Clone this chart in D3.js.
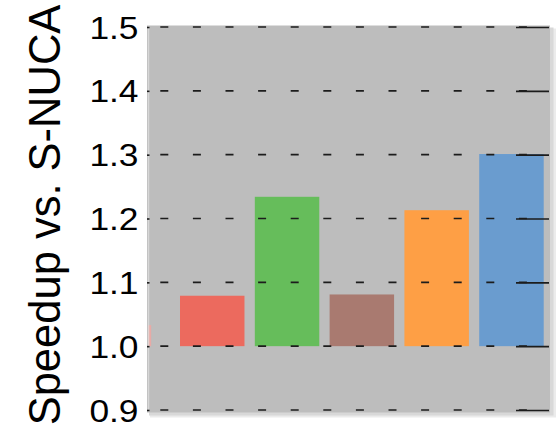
<!DOCTYPE html>
<html>
<head>
<meta charset="utf-8">
<script src="https://cdn.jsdelivr.net/npm/d3@7"></script>
<style>
  html, body { margin: 0; padding: 0; background: #ffffff; }
  svg { display: block; }
  text { font-family: "Liberation Sans", Arial, Helvetica, sans-serif; fill: #000; }
</style>
</head>
<body>
<div id="chart"></div>
<script>
// Speedup of each scheme over the S-NUCA baseline
const categories = ["A", "B", "C", "D", "E"];
const speedups = [1.079, 1.234, 1.081, 1.213, 1.301];
const barColors = ["#ec6a5e", "#66bd5b", "#a97a70", "#fe9f45", "#6a9ccf"];
// last bar of the preceding group, cut off at the plot edge
const edgeValue = [1.033];
const edgeColor = "#e8aaa6";
const yTicks = [0.9, 1.0, 1.1, 1.2, 1.3, 1.4, 1.5];
const yLabel = "Speedup vs. S-NUCA";

const W = 559, H = 425;
const plot = { left: 147, right: 550, top: 25.5, bottom: 412.5 };
const groupGap = 18.5;

const svg = d3.select("#chart").append("svg")
  .attr("width", W).attr("height", H);

// soft shadow along the right and bottom edges of the plot panel
svg.append("rect")
  .attr("x", plot.left + 3).attr("y", plot.top + 3)
  .attr("width", plot.right - plot.left + 3).attr("height", plot.bottom - plot.top + 2)
  .attr("fill", "#ebebeb");
svg.append("rect")
  .attr("x", plot.left + 2).attr("y", plot.top + 2)
  .attr("width", plot.right - plot.left + 1.5).attr("height", plot.bottom - plot.top + 1)
  .attr("fill", "#d8d8d8");

// plot panel
svg.append("rect")
  .attr("x", plot.left).attr("y", plot.top)
  .attr("width", plot.right - plot.left).attr("height", plot.bottom - plot.top)
  .attr("fill", "#bdbdbd");

const y = d3.scaleLinear().domain([0.9, 1.5]).range([410, 27]);
const x = d3.scaleBand().domain(categories)
  .range([180, 543.7]).paddingInner(0.138).paddingOuter(0);

svg.append("clipPath").attr("id", "plotClip")
  .append("rect")
  .attr("x", plot.left + 1).attr("y", plot.top)
  .attr("width", plot.right - plot.left - 1).attr("height", plot.bottom - plot.top);

const marks = svg.append("g").attr("clip-path", "url(#plotClip)");

// partial bar from the previous group
marks.selectAll("rect.edge").data(edgeValue).enter().append("rect")
  .attr("class", "edge")
  .attr("x", x(categories[0]) - x.step() - groupGap)
  .attr("width", x.bandwidth())
  .attr("y", d => y(d))
  .attr("height", d => y(1.0) - y(d))
  .attr("fill", edgeColor);

// light left border of the panel
svg.append("line")
  .attr("x1", plot.left + 1.5).attr("x2", plot.left + 1.5)
  .attr("y1", plot.top).attr("y2", plot.bottom)
  .attr("stroke", "#e2e2e2").attr("stroke-width", 1.5).attr("stroke-opacity", 0.7);

// bars rise from the 1.0 baseline
marks.selectAll("rect.bar").data(speedups).enter().append("rect")
  .attr("class", "bar")
  .attr("x", (d, i) => x(categories[i]))
  .attr("width", x.bandwidth())
  .attr("y", d => y(d))
  .attr("height", d => y(1.0) - y(d))
  .attr("fill", (d, i) => barColors[i]);

// dashed gridlines drawn over the bars
const grid = svg.append("g");
grid.selectAll("line.grid").data(yTicks).enter().append("line")
  .attr("x1", plot.left + 3).attr("x2", plot.right - 1)
  .attr("y1", d => y(d)).attr("y2", d => y(d))
  .attr("stroke", "#1c1c1c").attr("stroke-width", 1.6)
  .attr("stroke-dasharray", "8,24.6").attr("stroke-dashoffset", 22.3);

// left axis ticks (short, inward) and right axis ticks (long, inward)
const yAxisL = d3.axisRight(y).tickValues(yTicks).tickSize(2.5).tickFormat("");
const gl = svg.append("g").attr("transform", `translate(${plot.left},0)`).call(yAxisL);
gl.select(".domain").remove();
gl.selectAll(".tick line").attr("stroke", "#1c1c1c").attr("stroke-width", 1.6);

const yAxisR = d3.axisLeft(y).tickValues(yTicks).tickSize(33).tickFormat("");
const gr = svg.append("g").attr("transform", `translate(${plot.right - 1},0)`).call(yAxisR);
gr.select(".domain").remove();
gr.selectAll(".tick line").attr("stroke", "#1c1c1c").attr("stroke-width", 1.6);

// tick labels, slightly widened
const labelAxis = d3.axisLeft(y).tickValues(yTicks).tickSize(0).tickFormat(d3.format(".1f"));
const gt = svg.append("g").attr("transform", "translate(138.5,0)").call(labelAxis);
gt.select(".domain").remove();
gt.selectAll(".tick text")
  .attr("x", 0).attr("dy", "0.36em")
  .attr("font-size", 31)
  .attr("font-family", "'Liberation Sans', Arial, Helvetica, sans-serif")
  .attr("fill", "#000")
  .attr("transform", "scale(1.14,1)");

// axis title
svg.append("text")
  .attr("transform", "translate(60,215) rotate(-90)")
  .attr("text-anchor", "middle")
  .attr("font-size", 43.5)
  .text(yLabel);
</script>
</body>
</html>
